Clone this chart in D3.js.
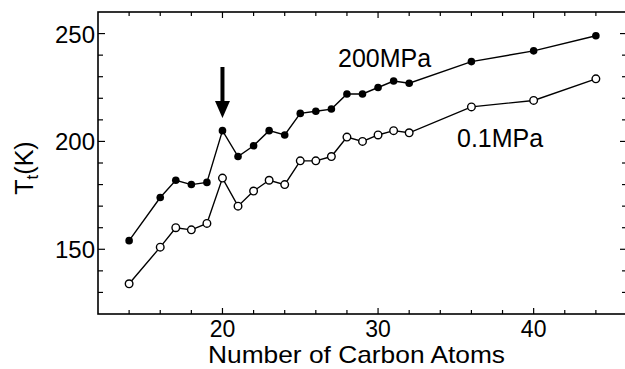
<!DOCTYPE html>
<html>
<head>
<meta charset="utf-8">
<script src="https://cdn.jsdelivr.net/npm/d3@7"></script>
<style>
  body { margin: 0; background: #fff; }
  svg { display: block; }
  text { font-family: "Liberation Sans", Arial, Helvetica, sans-serif; fill: #000; }
</style>
</head>
<body>
<svg id="chart" width="625" height="369"></svg>
<script>
// carbon numbers and transition temperatures (K)
const carbons = [14, 16, 17, 18, 19, 20, 21, 22, 23, 24, 25, 26, 27, 28, 29, 30, 31, 32, 36, 40, 44];
const t200MPa = [154, 174, 182, 180, 181, 205, 193, 198, 205, 203, 213, 214, 215, 222, 222, 225, 228, 227, 237, 242, 249];
const t01MPa = [134, 151, 160, 159, 162, 183, 170, 177, 182, 180, 191, 191, 193, 202, 200, 203, 205, 204, 216, 219, 229];
const xTicks = [20, 30, 40];
const yTicks = [150, 200, 250];
const arrowAt = 20;

const svg = d3.select("#chart");
const margin = { left: 98, top: 12, right: -2, bottom: 55 };
const W = 625, H = 369;

const x = d3.scaleLinear().domain([12, 46]).range([margin.left, W - margin.right]);
const y = d3.scaleLinear().domain([120, 260]).range([H - margin.bottom, margin.top]);

const g = svg.append("g");

// frame
g.append("rect")
  .attr("x", x(12)).attr("y", y(260))
  .attr("width", x(46) - x(12)).attr("height", y(120) - y(260))
  .attr("fill", "none").attr("stroke", "#000").attr("stroke-width", 1.6);

const minorX = d3.range(14, 46, 2);
const minorY = d3.range(130, 260, 10);

// bottom / top ticks
g.selectAll(".tb").data(minorX).join("line")
  .attr("x1", d => x(d)).attr("x2", d => x(d))
  .attr("y1", y(120)).attr("y2", d => y(120) - (xTicks.includes(d) ? 6 : 4))
  .attr("stroke", "#000").attr("stroke-width", 1.2);
g.selectAll(".tt").data(minorX).join("line")
  .attr("x1", d => x(d)).attr("x2", d => x(d))
  .attr("y1", y(260)).attr("y2", d => y(260) + (xTicks.includes(d) ? 6 : 4))
  .attr("stroke", "#000").attr("stroke-width", 1.2);

// left / right ticks
g.selectAll(".tl").data(minorY).join("line")
  .attr("y1", d => y(d)).attr("y2", d => y(d))
  .attr("x1", x(12)).attr("x2", d => x(12) + (yTicks.includes(d) ? 7 : 5))
  .attr("stroke", "#000").attr("stroke-width", 1.2);
g.selectAll(".tr").data(minorY).join("line")
  .attr("y1", d => y(d)).attr("y2", d => y(d))
  .attr("x1", x(46)).attr("x2", d => x(46) - (yTicks.includes(d) ? 7 : 5))
  .attr("stroke", "#000").attr("stroke-width", 1.2);

// tick labels
g.selectAll(".xl").data(xTicks).join("text")
  .attr("x", d => x(d)).attr("y", y(120) + 23)
  .attr("text-anchor", "middle").attr("font-size", 23)
  .text(d => d);
g.selectAll(".yl").data(yTicks).join("text")
  .attr("x", x(12) - 3).attr("y", d => y(d) + 9)
  .attr("text-anchor", "end").attr("font-size", 24)
  .text(d => d);

// axis titles
svg.append("text")
  .attr("x", (208 + 505) / 2).attr("y", 363)
  .attr("text-anchor", "middle").attr("font-size", 24)
  .attr("textLength", 297).attr("lengthAdjust", "spacingAndGlyphs")
  .text("Number of Carbon Atoms");

const yt = svg.append("text")
  .attr("transform", "translate(33," + 168 + ") rotate(-90)")
  .attr("text-anchor", "middle").attr("font-size", 25);
yt.append("tspan").text("T");
yt.append("tspan").attr("font-size", 17).attr("dy", 5).text("t");
yt.append("tspan").attr("dy", -5).text("(K)");

// series
const line = d3.line().x(d => x(d[0])).y(d => y(d[1]));
const s200 = carbons.map((c, i) => [c, t200MPa[i]]);
const s01 = carbons.map((c, i) => [c, t01MPa[i]]);

g.append("path").attr("d", line(s200))
  .attr("fill", "none").attr("stroke", "#000").attr("stroke-width", 1.4);
g.append("path").attr("d", line(s01))
  .attr("fill", "none").attr("stroke", "#000").attr("stroke-width", 1.4);

g.selectAll(".p200").data(s200).join("circle")
  .attr("cx", d => x(d[0])).attr("cy", d => y(d[1])).attr("r", 3.8)
  .attr("fill", "#000");
g.selectAll(".p01").data(s01).join("circle")
  .attr("cx", d => x(d[0])).attr("cy", d => y(d[1])).attr("r", 3.8)
  .attr("fill", "#fff").attr("stroke", "#000").attr("stroke-width", 1.4);

// series labels
svg.append("text").attr("x", 338).attr("y", 67).attr("font-size", 25).text("200MPa");
svg.append("text").attr("x", 457).attr("y", 147).attr("font-size", 25).text("0.1MPa");

// arrow pointing at C20 peak
const ax = x(arrowAt);
g.append("line")
  .attr("x1", ax).attr("x2", ax).attr("y1", 67).attr("y2", 106)
  .attr("stroke", "#000").attr("stroke-width", 4);
g.append("path")
  .attr("d", `M${ax - 7.5},101 L${ax + 7.5},101 L${ax},118 Z`)
  .attr("fill", "#000");
</script>
</body>
</html>
